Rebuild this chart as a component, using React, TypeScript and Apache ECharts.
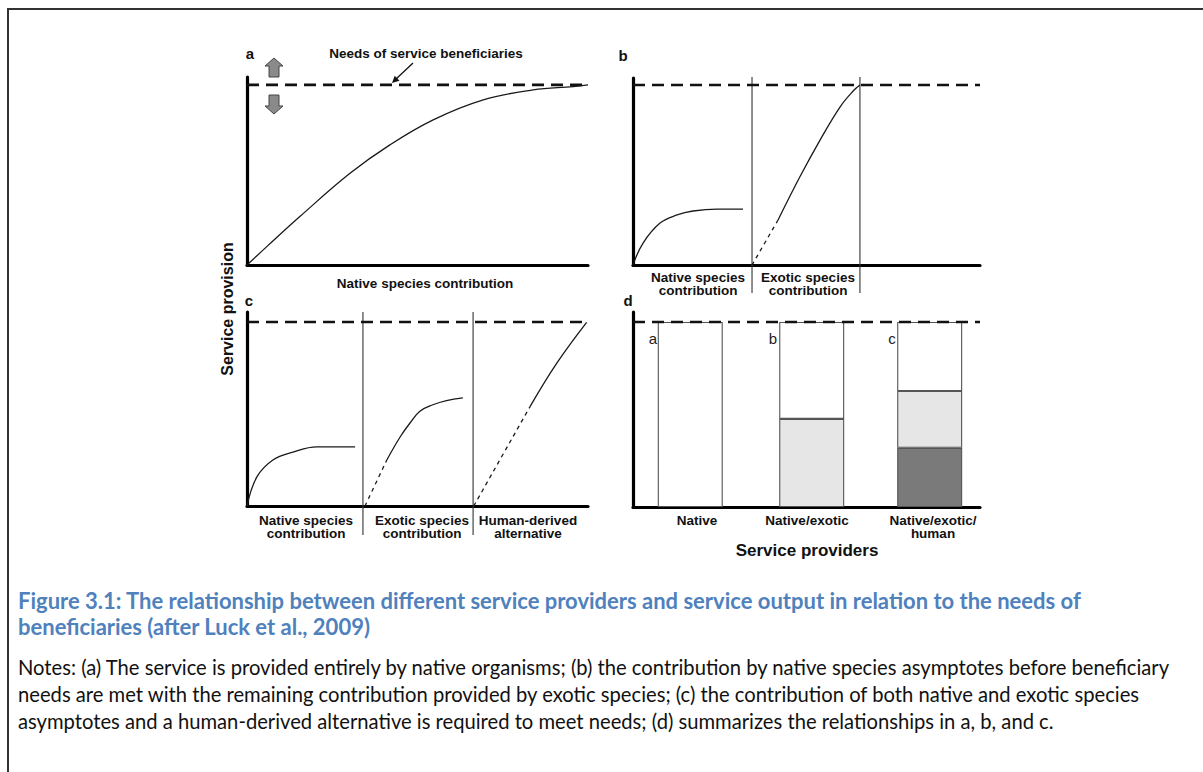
import React, { useEffect, useRef } from "react";
import * as echarts from "echarts";

// ---- data ----
const needsLevel = 100;
// Panel a: native species contribution only
const panelANative = [[0, 0], [5.8, 10.2], [15.5, 26.9], [30.2, 50.9], [41.9, 66.7], [54.6, 80.6], [69.3, 91.7], [83.9, 97.2], [95.7, 99.1], [100, 100]];
// Panel b
const panelBNative = [[0, 0], [2.9, 12.2], [7.8, 23.3], [12.7, 27.8], [17.3, 30], [24.2, 31.1], [31.7, 31.1]];
const panelBExoticProjected = [[34.3, 0], [41.8, 25]];
const panelBExotic = [[41.8, 25], [48.1, 49], [53.9, 69.4], [59.7, 87.9], [63.5, 96.8], [65.4, 100]];
const panelBDividers = [34.3, 65.4];
// Panel c
const panelCNative = [[0, 0], [2.9, 15.8], [7.6, 25], [13.5, 29.3], [20.5, 32.1], [31.7, 32.1]];
const panelCExoticProjected = [[34.6, 0], [41, 25]];
const panelCExotic = [[41, 25], [44.9, 37.5], [47.8, 45.1], [50.7, 51.5], [54.5, 55], [58.5, 57.3], [63.3, 58.7]];
const panelCHumanProjected = [[66.5, 0], [83, 54]];
const panelCHuman = [[83, 54], [90.8, 77.5], [99.6, 99.8]];
const panelCDividers = [34.0, 66.3];
// Panel d
const providerLabels = ["Native", "Native/exotic", "Native/exotic/\nhuman"];
const providerLetters = ["a", "b", "c"];
const providerX = [16.9, 51.3, 85.7]; // position along the axis, 0-100
const barBottom = [null, null, 32];
const barMiddle = [null, 47.6, 30.7];
const barTop = [100, 52.4, 37.3];

const captionTitle = [
  "Figure 3.1: The relationship between different service providers and service output in relation to the needs of",
  "beneficiaries (after Luck et al., 2009)",
];
const captionNotes = [
  "Notes: (a) The service is provided entirely by native organisms; (b) the contribution by native species asymptotes before beneficiary",
  "needs are met with the remaining contribution provided by exotic species; (c) the contribution of both native and exotic species",
  "asymptotes and a human-derived alternative is required to meet needs; (d) summarizes the relationships in a, b, and c.",
];

// ---- layout ----
const grids = [
  { left: 247, top: 77, width: 341, height: 188, yMax: 104.4 },
  { left: 633, top: 78, width: 347, height: 187, yMax: 103.9 },
  { left: 247, top: 312, width: 341, height: 194, yMax: 105.4 },
  { left: 633, top: 312, width: 347, height: 195, yMax: 105.4 },
];
const SLOTS = 100;

const FIG_FONT = "'Liberation Sans', Arial, sans-serif";
const CAP_FONT = "Lato, 'Open Sans', sans-serif";

function curve(i: number, data: number[][], dashed = false) {
  return {
    type: "line",
    xAxisIndex: i,
    yAxisIndex: i,
    data,
    smooth: 0.4,
    symbol: "none",
    silent: true,
    lineStyle: { color: "#1a1a1a", width: 1.3, type: dashed ? [4, 4] : "solid" },
    z: 3,
  };
}

function needsLine(xi: number, yi: number) {
  return {
    type: "line",
    xAxisIndex: xi,
    yAxisIndex: yi,
    data: [[0, needsLevel], [100, needsLevel]],
    symbol: "none",
    silent: true,
    lineStyle: { color: "#111", width: 2.6, type: [12, 7] },
    z: 6,
  };
}

function divider(i: number, x: number, yMin: number, yMax: number) {
  return {
    type: "line",
    xAxisIndex: i,
    yAxisIndex: i,
    data: [[x, yMin], [x, yMax]],
    symbol: "none",
    silent: true,
    clip: false,
    lineStyle: { color: "#333", width: 1.1 },
    z: 2,
  };
}

function txt(text: string, x: number, y: number, size: number, opts: any = {}) {
  return {
    type: "text",
    x,
    y,
    rotation: opts.rotation || 0,
    style: {
      text,
      fill: opts.fill || "#111",
      fontSize: size,
      fontWeight: opts.weight || "bold",
      fontFamily: opts.family || FIG_FONT,
      textAlign: opts.align || "center",
      textVerticalAlign: "middle",
      lineHeight: opts.lineHeight || size + 1,
    },
  };
}

export default function App() {
  const ref = useRef<HTMLDivElement>(null);
  useEffect(() => {
    if (!ref.current) return;
    const chart = echarts.init(ref.current, null, { renderer: "svg" });

    const axisCommon = {
      axisLine: { show: true, onZero: false, lineStyle: { color: "#000", width: 3.2 } },
      axisTick: { show: false },
      axisLabel: { show: false },
      splitLine: { show: false },
    };

    const series: any[] = [];
    series.push(needsLine(0, 0), curve(0, panelANative));
    series.push(needsLine(1, 1), curve(1, panelBNative), curve(1, panelBExoticProjected, true), curve(1, panelBExotic));
    panelBDividers.forEach((x) => series.push(divider(1, x, -15.6, 104.4)));
    series.push(
      needsLine(2, 2),
      curve(2, panelCNative),
      curve(2, panelCExoticProjected, true),
      curve(2, panelCExotic),
      curve(2, panelCHumanProjected, true),
      curve(2, panelCHuman)
    );
    panelCDividers.forEach((x) => series.push(divider(2, x, -15.8, 105.4)));
    series.push(needsLine(4, 3));

    const slotCats = Array.from({ length: SLOTS }, (_, i) => String(i));
    const slotOf = providerX.map((v) => Math.floor((v / 100) * SLOTS));
    const barSeries = [
      { name: "bottom", values: barBottom, color: "#7a7a7a" },
      { name: "middle", values: barMiddle, color: "#e6e6e6" },
      { name: "top", values: barTop, color: "#ffffff" },
    ];
    barSeries.forEach((s) => {
      const data: any[] = slotCats.map(() => null);
      slotOf.forEach((slot, i) => {
        data[slot] = s.values[i] == null ? null : s.values[i];
      });
      series.push({
        type: "bar",
        name: s.name,
        xAxisIndex: 3,
        yAxisIndex: 3,
        stack: "providers",
        barWidth: 65,
        silent: true,
        data,
        itemStyle: { color: s.color, borderColor: "#555", borderWidth: 1.1 },
        z: 2,
      });
    });

    const graphics: any[] = [
      { type: "rect", shape: { x: 8, y: 9, width: 1300, height: 900 }, style: { fill: "none", stroke: "#333", lineWidth: 2 } },
      txt("a", 250, 53, 15),
      txt("b", 623, 55, 15),
      txt("c", 249, 300, 15),
      txt("d", 628, 300, 15),
      txt("Needs of service beneficiaries", 426, 53, 13.5),
      { type: "line", shape: { x1: 413, y1: 63, x2: 395, y2: 80 }, style: { stroke: "#111", lineWidth: 1.3 } },
      { type: "polygon", shape: { points: [[392, 83], [399.5, 80.7], [394.7, 75.7]] }, style: { fill: "#111" } },
      {
        type: "polygon",
        shape: { points: [[274, 58], [283, 66], [279, 66], [279, 77], [269, 77], [269, 66], [265, 66]] },
        style: { fill: "#8a8a8a", stroke: "#444", lineWidth: 1 },
      },
      {
        type: "polygon",
        shape: { points: [[269, 95], [279, 95], [279, 106], [283, 106], [274, 114], [265, 106], [269, 106]] },
        style: { fill: "#8a8a8a", stroke: "#444", lineWidth: 1 },
      },
      txt("Native species contribution", 425, 283, 13.5),
      txt("Native species\ncontribution", 698, 284, 13.5, { lineHeight: 13 }),
      txt("Exotic species\ncontribution", 808, 284, 13.5, { lineHeight: 13 }),
      txt("Native species\ncontribution", 306, 527, 13.5, { lineHeight: 13 }),
      txt("Exotic species\ncontribution", 422, 527, 13.5, { lineHeight: 13 }),
      txt("Human-derived\nalternative", 528, 527, 13.5, { lineHeight: 13 }),
      txt("Service providers", 807, 550, 17),
      txt("Service provision", 227, 309, 16, { rotation: Math.PI / 2 }),
    ];
    const labelX = [697, 807, 933];
    providerLabels.forEach((l, i) => {
      const twoLine = l.indexOf("\n") >= 0;
      graphics.push(txt(l, labelX[i], twoLine ? 526.5 : 520, 13.5, { lineHeight: 13 }));
    });
    const letterX = [653, 773, 892];
    providerLetters.forEach((l, i) => graphics.push(txt(l, letterX[i], 338, 15, { weight: "normal", fill: "#222" })));

    captionTitle.forEach((t, i) =>
      graphics.push(txt(t, 18, 600 + i * 26, 22, { align: "left", family: CAP_FONT, fill: "#4F81BD" }))
    );
    captionNotes.forEach((t, i) =>
      graphics.push(txt(t, 18, 667 + i * 27, 20.2, { align: "left", family: CAP_FONT, fill: "#111", weight: "normal" }))
    );

    chart.setOption({
      animation: false,
      backgroundColor: "#ffffff",
      grid: grids.map((g) => ({ left: g.left, top: g.top, width: g.width, height: g.height, containLabel: false })),
      xAxis: [
        { ...axisCommon, type: "value", gridIndex: 0, min: 0, max: 100 },
        { ...axisCommon, type: "value", gridIndex: 1, min: 0, max: 100 },
        { ...axisCommon, type: "value", gridIndex: 2, min: 0, max: 100 },
        { ...axisCommon, type: "category", gridIndex: 3, data: slotCats, boundaryGap: true },
        { type: "value", gridIndex: 3, min: 0, max: 100, show: false },
      ],
      yAxis: grids.map((g, i) => ({ ...axisCommon, type: "value", gridIndex: i, min: 0, max: g.yMax })),
      series,
      graphic: graphics,
    });
    return () => chart.dispose();
  }, []);
  return <div ref={ref} style={{ position: "absolute", left: 0, top: 0, width: 1203, height: 772 }} />;
}
